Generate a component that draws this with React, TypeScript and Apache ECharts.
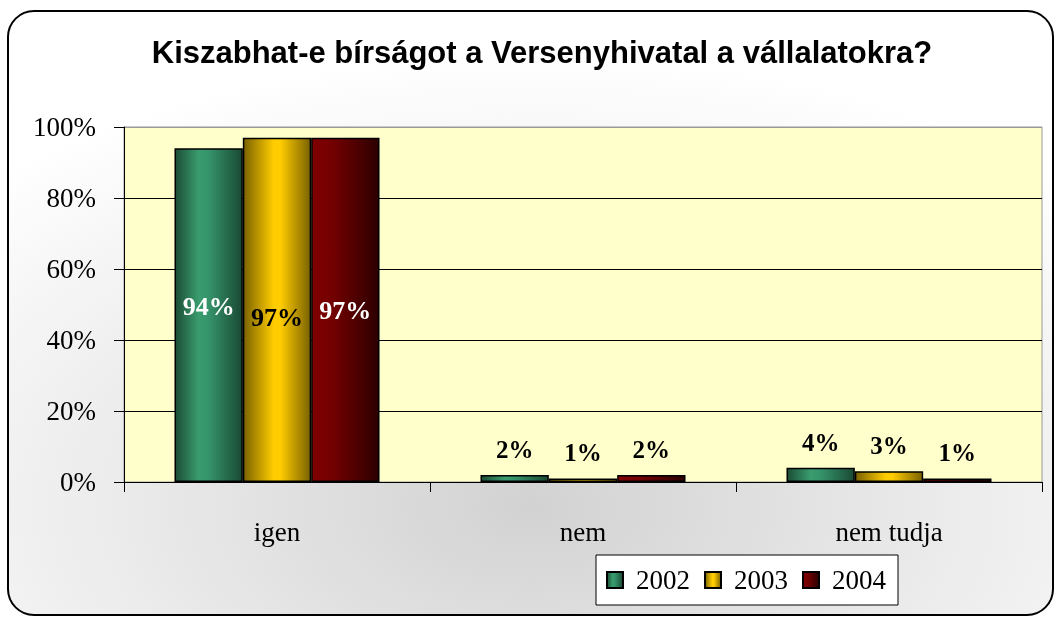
import React, { useEffect, useRef } from "react";
import * as echarts from "echarts";

const title = "Kiszabhat-e bírságot a Versenyhivatal a vállalatokra?";
const categories = ["igen", "nem", "nem tudja"];
const years = ["2002", "2003", "2004"];
const v2002 = [94, 2, 4];
const v2003 = [97, 1, 3];
const v2004 = [97, 2, 1];
const yMin = 0;
const yMax = 100;
const yStep = 20;

const serif = "Liberation Serif";
const sans = "Liberation Sans";

const grad = (stops: [number, string][]) =>
  new echarts.graphic.LinearGradient(
    0, 0, 1, 0,
    stops.map(([offset, color]) => ({ offset, color }))
  );

const fills = [
  grad([[0, "#1b4d35"], [0.35, "#3a9c6e"], [0.5, "#35936a"], [1, "#1a4a33"]]),
  grad([[0, "#7a6200"], [0.45, "#ffcc00"], [0.55, "#ffcc00"], [1, "#7a6200"]]),
  grad([[0, "#800000"], [0.3, "#740000"], [1, "#2c0000"]]),
];

const bigLabel = [
  { color: "#ffffff", offset: [0, -9] },
  { color: "#000000", offset: [0, 8] },
  { color: "#ffffff", offset: [0, 1] },
];

export default function App() {
  const ref = useRef<HTMLDivElement>(null);
  useEffect(() => {
    if (!ref.current) return;
    const chart = echarts.init(ref.current, null, { renderer: "svg" });
    const seriesValues = [v2002, v2003, v2004];
    chart.setOption({
      animation: false,
      graphic: [
        {
          type: "rect",
          z: -10,
          shape: { x: 8, y: 11, width: 1045, height: 604, r: 26 },
          style: {
            fill: new echarts.graphic.RadialGradient(0.5, 0.82, 0.75, [
              { offset: 0, color: "#d2d2d2" },
              { offset: 0.55, color: "#ececec" },
              { offset: 1, color: "#ffffff" },
            ]),
            stroke: "#000",
            lineWidth: 2,
          },
        },
      ],
      title: {
        text: title,
        left: 537,
        textAlign: "center",
        top: 32,
        textStyle: { fontFamily: sans, fontWeight: "bold", fontSize: 31, color: "#000" },
      },
      grid: {
        left: 124,
        right: 18,
        top: 127,
        bottom: 138,
        show: true,
        backgroundColor: "#FFFFCC",
        borderColor: "#999999",
        borderWidth: 1,
      },
      legend: {
        data: years,
        left: 596,
        top: 555,
        padding: [10, 12, 10, 10],
        backgroundColor: "#ffffff",
        borderColor: "#000",
        borderWidth: 1,
        itemWidth: 16,
        itemHeight: 16,
        itemGap: 14,
        icon: "rect",
        textStyle: { fontFamily: serif, fontSize: 27, color: "#000", padding: [0, 0, 0, 8], lineHeight: 30 },
      },
      xAxis: {
        type: "category",
        data: categories,
        axisLine: { lineStyle: { color: "#000", width: 1 } },
        axisTick: { show: true, length: 10, lineStyle: { color: "#000" } },
        axisLabel: { fontFamily: serif, fontSize: 27, color: "#000", margin: 36 },
        splitLine: { show: false },
      },
      yAxis: {
        type: "value",
        min: yMin,
        max: yMax,
        interval: yStep,
        axisLine: { show: true, lineStyle: { color: "#000", width: 1 } },
        axisTick: { show: true, length: 10, lineStyle: { color: "#000" } },
        axisLabel: { fontFamily: serif, fontSize: 27, color: "#000", margin: 28, formatter: "{value}%" },
        splitLine: { show: true, lineStyle: { color: ["#000", "#000", "#000", "#000", "#000", "#999"], width: 1 } },
      },
      series: seriesValues.map((vals, s) => ({
        name: years[s],
        type: "bar",
        barGap: "0%",
        barCategoryGap: "33%",
        itemStyle: { color: fills[s], borderColor: "#000", borderWidth: 1.5 },
        label: {
          show: true,
          position: "top",
          distance: 13,
          formatter: "{c}%",
          fontFamily: serif,
          fontWeight: "bold",
          fontSize: 25,
          color: "#000",
        },
        data: vals.map((v, i) =>
          i === 0
            ? { value: v, label: { position: "inside", fontSize: 26, color: bigLabel[s].color, offset: bigLabel[s].offset } }
            : v
        ),
      })),
    });
    return () => chart.dispose();
  }, []);
  return (
    <div
      ref={ref}
      style={{ position: "fixed", left: 0, top: 0, width: 1060, height: 620 }}
    />
  );
}
